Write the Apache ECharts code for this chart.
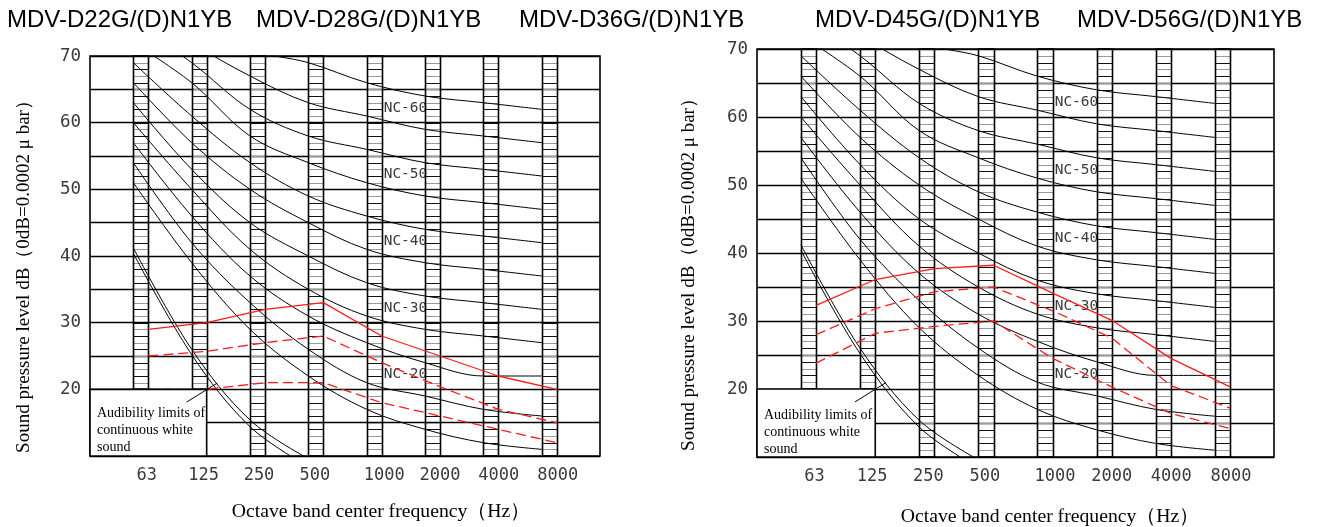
<!DOCTYPE html>
<html><head><meta charset="utf-8">
<script src="https://cdn.jsdelivr.net/npm/echarts@6/dist/echarts.min.js"></script>
<style>html,body{margin:0;padding:0;background:#fff}#c{width:1317px;height:527px}</style>
</head><body><div id="c"></div>
<script>
// ---------------- data ----------------
const freqLabels = ['63', '125', '250', '500', '1000', '2000', '4000', '8000'];
const bandTop = 70;
const bandBottoms = [20, 20, 10, 10, 10, 10, 10, 10];
const yTickValues = [20, 30, 40, 50, 60, 70];

// NC curves (dB at each octave band)
const nc15 = [51, 39, 29, 22, 17, 14, 12, 11];
const nc20 = [54, 42, 33, 26, 21, 19, 17, 16];
const nc25 = [57, 46, 37, 31, 27, 24, 22, 22];
const nc30 = [60, 50, 41, 35, 31, 29, 28, 27];
const nc35 = [63, 53, 45, 40, 36, 34, 33, 32];
const nc40 = [66, 57, 50, 45, 41, 39, 38, 37];
const nc45 = [69, 61, 54, 49, 46, 44, 43, 42];
const nc50 = [72, 66, 58, 54, 51, 49, 48, 47];
const nc55 = [75, 69, 62, 58, 56, 54, 53, 52];
const nc60 = [78, 72, 67, 63, 61, 59, 58, 57];
const nc65 = [81, 76, 71, 69, 66, 64, 63, 62];
const ncLabelled = { 'NC-60': nc60, 'NC-50': nc50, 'NC-40': nc40, 'NC-30': nc30, 'NC-20': nc20 };

// audibility limits of continuous white sound
const audibleA = [41.2, 26.0, 15.4, 9.6];
const audibleB = [40.4, 25.2, 14.4, 8.4];

// unit sound levels
const leftSolid = [29, 30, 32, 33, 28, 25, 22, 20];
const leftDashA = [25, 25.7, 27, 28, 24, 20.4, 17, 15];
const leftDashB = [20, 20, 21, 21, 18, 16, 14, 12];
const rightSolid = [32.3, 36.1, 37.7, 38.2, 34.1, 30.1, 24.5, 20.3];
const rightDashA = [28, 31.8, 34.3, 35, 31.5, 27.5, 20.5, 17.2];
const rightDashB = [23.8, 28.2, 29.2, 30, 24.5, 20.3, 16.4, 14.2];

const leftTitles = ['MDV-D22G/(D)N1YB', 'MDV-D28G/(D)N1YB', 'MDV-D36G/(D)N1YB'];
const rightTitles = ['MDV-D45G/(D)N1YB', 'MDV-D56G/(D)N1YB'];
const yName = 'Sound pressure level dB（0dB=0.0002 μ bar）';
const xName = 'Octave band center frequency（Hz）';
const boxLines = ['Audibility limits of', 'continuous white', 'sound'];

// ---------------- styling constants ----------------
const BW = 0.257;          // band width in axis units
const XMIN = -0.743, XMAX = 8;
const MONO = '"DejaVu Sans Mono", monospace';
const TICK_COLOR = '#3a3a3a';
const labelShift = [6, 4.5, 1.5, -1, 10, 7.5, 8, 8.5];
const xy = arr => arr.map((v, i) => [i, v]);
const xyR = arr => arr.map((v, i) => [i + BW, v]);

const chart = echarts.init(document.getElementById('c'), null, { renderer: 'canvas' });

function bandSeries(gi) {
  return {
    type: 'custom', xAxisIndex: gi, yAxisIndex: gi, z: 3, silent: true,
    data: freqLabels.map((f, i) => [i, bandBottoms[i]]),
    renderItem: function (params, api) {
      const i = params.dataIndex;
      const bot = bandBottoms[i];
      const p0 = api.coord([i, bandTop]);
      const p1 = api.coord([i + BW, bot]);
      const x0 = Math.round(p0[0]) + 0.5, x1 = Math.round(p1[0]) + 0.5;
      const children = [];
      for (let k = bot + 1; k < bandTop; k++) {
        const y = Math.round(api.coord([i, k])[1]) + 0.5;
        children.push({ type: 'line', shape: { x1: x0, y1: y, x2: x1, y2: y },
          style: { stroke: k % 2 === 0 ? '#111' : '#9a9a9a', lineWidth: 1 } });
      }
      children.push({ type: 'rect', shape: { x: x0, y: p0[1], width: x1 - x0, height: p1[1] - p0[1] },
        style: { fill: null, stroke: '#000', lineWidth: 1.6 } });
      return { type: 'group', children: children };
    }
  };
}

function tickLabelSeries(gi) {
  return {
    type: 'custom', xAxisIndex: gi, yAxisIndex: gi, z: 3, silent: true, clip: false,
    data: freqLabels.map((f, i) => [i, 10]),
    renderItem: function (params, api) {
      const i = params.dataIndex;
      const p = api.coord([i + BW / 2, 10]);
      return { type: 'text', x: p[0] + labelShift[i], y: p[1] + 20,
        style: { text: freqLabels[i], font: '17px ' + MONO, fill: TICK_COLOR,
          textAlign: 'center', textVerticalAlign: 'middle', align: 'center', verticalAlign: 'middle' } };
    }
  };
}

function ncLabelSeries(gi) {
  const names = Object.keys(ncLabelled);
  return {
    type: 'custom', xAxisIndex: gi, yAxisIndex: gi, z: 2, silent: true,
    data: names.map((n, i) => [4, ncLabelled[n][4]]),
    renderItem: function (params, api) {
      const n = names[params.dataIndex];
      const p = api.coord([4 + BW, ncLabelled[n][4] + 1.2]);
      return { type: 'text', x: p[0] + 2, y: p[1],
        style: { text: n, font: '14.5px ' + MONO, fill: TICK_COLOR,
          textAlign: 'left', textVerticalAlign: 'middle', align: 'left', verticalAlign: 'middle' } };
    }
  };
}

function boxSeries(gi, dy) {
  return {
    type: 'custom', xAxisIndex: gi, yAxisIndex: gi, z: 6, silent: true, clip: false,
    data: [[0, 20]],
    renderItem: function (params, api) {
      const a = api.coord([XMIN, 20]);
      const b = api.coord([1 + BW, 10]);
      const children = [{ type: 'rect', shape: { x: a[0], y: a[1], width: b[0] - a[0], height: b[1] - a[1] },
        style: { fill: '#fff', stroke: '#000', lineWidth: 1.6 } }];
      boxLines.forEach((t, k) => {
        children.push({ type: 'text', x: a[0] + 7, y: a[1] + dy + k * 17,
          style: { text: t, font: '14px "Liberation Serif", serif', fill: '#000',
            textAlign: 'left', textVerticalAlign: 'middle', align: 'left', verticalAlign: 'middle' } });
      });
      const l0 = api.coord([0.915, 18.1]);
      const l1 = api.coord([1.44, 20.95]);
      children.push({ type: 'line', shape: { x1: l0[0], y1: l0[1], x2: l1[0], y2: l1[1] },
        style: { stroke: '#000', lineWidth: 1 } });
      return { type: 'group', children: children };
    }
  };
}

function ncLine(gi, arr) {
  return { type: 'line', xAxisIndex: gi, yAxisIndex: gi, data: xy(arr), smooth: 0.35, symbol: 'none',
    z: 4, silent: true, lineStyle: { color: '#000', width: 1 } };
}
function redLine(gi, arr, dashed) {
  return { type: 'line', xAxisIndex: gi, yAxisIndex: gi, data: xyR(arr), smooth: false, symbol: 'none',
    z: 5, silent: true, lineStyle: { color: '#ff1a1a', width: 1.3, type: dashed ? [10, 5] : 'solid' } };
}

function gridSeries(gi, reds) {
  const s = [bandSeries(gi), tickLabelSeries(gi), ncLabelSeries(gi)];
  [nc15, nc20, nc25, nc30, nc35, nc40, nc45, nc50, nc55, nc60, nc65, audibleA, audibleB]
    .forEach(a => s.push(ncLine(gi, a)));
  s.push(redLine(gi, reds[0], false), redLine(gi, reds[1], true), redLine(gi, reds[2], true));
  return s;
}

function xAxisCfg(gi) {
  return { type: 'value', gridIndex: gi, min: XMIN, max: XMAX, show: true,
    axisLine: { show: false }, axisTick: { show: false }, axisLabel: { show: false }, splitLine: { show: false } };
}
function yAxisCfg(gi) {
  return { type: 'value', gridIndex: gi, min: 10, max: 70, interval: 5,
    axisLine: { show: false }, axisTick: { show: false },
    axisLabel: { margin: 9, fontFamily: MONO, fontSize: 17.5, color: TICK_COLOR,
      formatter: v => (yTickValues.indexOf(v) >= 0 ? String(v) : '') },
    splitLine: { show: true, lineStyle: { color: '#000', width: 1.4 } } };
}

const TITLE_FONT = '24px "Liberation Sans", Arial, sans-serif';
const NAME_FONT = '19px "Liberation Serif", "Times New Roman", serif';
const XNAME_FONT = '19.7px "Liberation Serif", "Times New Roman", serif';
const graphics = [];
const leftTitleX = [7, 256, 519];
leftTitles.forEach((t, k) => graphics.push({ type: 'text', left: leftTitleX[k], top: 8,
  style: { text: t, font: TITLE_FONT, fill: '#000' } }));
const rightTitleX = [815, 1077];
rightTitles.forEach((t, k) => graphics.push({ type: 'text', left: rightTitleX[k], top: 8,
  style: { text: t, font: TITLE_FONT, fill: '#000' } }));
graphics.push({ type: 'text', x: 381, y: 512, style: { text: xName, font: XNAME_FONT,
  fill: '#000', textAlign: 'center', textVerticalAlign: 'middle' } });
graphics.push({ type: 'text', x: 1050, y: 517, style: { text: xName, font: XNAME_FONT,
  fill: '#000', textAlign: 'center', textVerticalAlign: 'middle' } });
graphics.push({ type: 'text', x: 24, y: 272, rotation: Math.PI / 2, style: { text: yName, font: NAME_FONT,
  fill: '#000', textAlign: 'center', textVerticalAlign: 'middle' } });
graphics.push({ type: 'text', x: 689, y: 270, rotation: Math.PI / 2, style: { text: yName, font: NAME_FONT,
  fill: '#000', textAlign: 'center', textVerticalAlign: 'middle' } });

const option = {
  backgroundColor: '#fff',
  animation: false,
  grid: [
    { left: 90, right: 717, top: 56, bottom: 71, show: true, borderColor: '#000', borderWidth: 1.6, backgroundColor: 'transparent' },
    { left: 757, right: 43, top: 49, bottom: 70, show: true, borderColor: '#000', borderWidth: 1.6, backgroundColor: 'transparent' }
  ],
  xAxis: [xAxisCfg(0), xAxisCfg(1)],
  yAxis: [yAxisCfg(0), yAxisCfg(1)],
  graphic: graphics,
  series: [].concat(
    gridSeries(0, [leftSolid, leftDashA, leftDashB]), boxSeries(0, 24),
    gridSeries(1, [rightSolid, rightDashA, rightDashB]), boxSeries(1, 26)
  )
};
chart.setOption(option);
</script>
</body></html>
